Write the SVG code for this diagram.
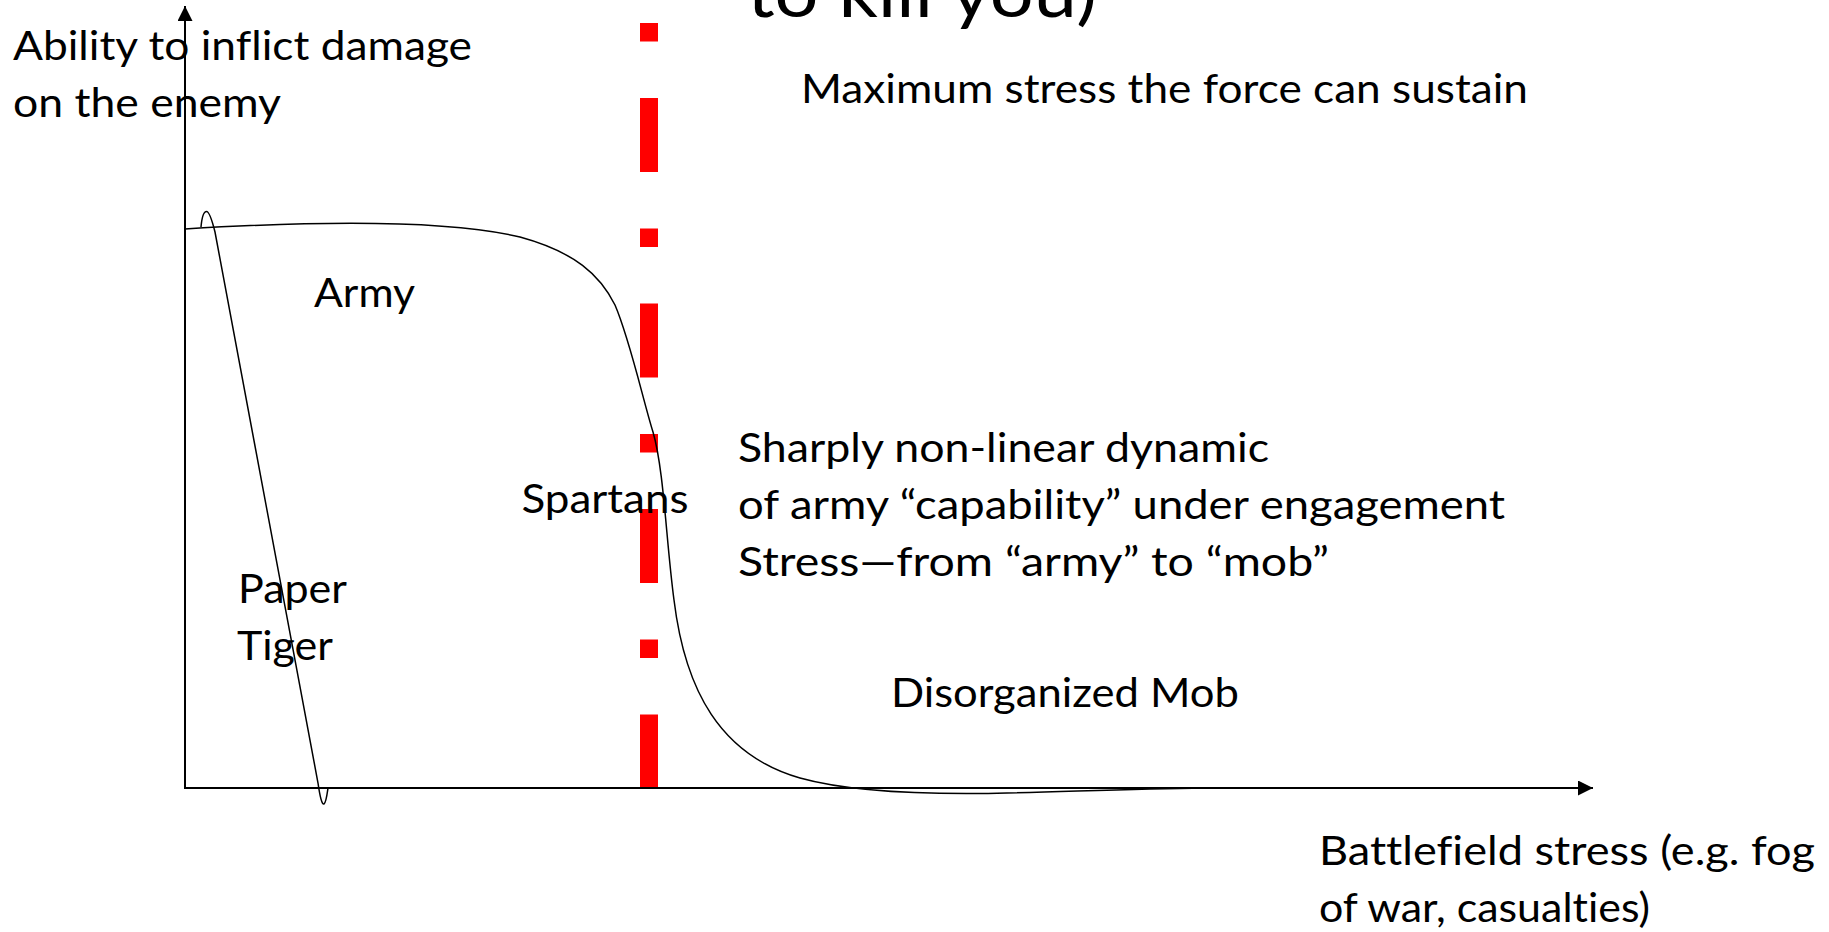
<svg xmlns="http://www.w3.org/2000/svg" width="1829" height="932" viewBox="0 0 1829 932">
<style>
  text { font-family: Lato, "Open Sans", "Liberation Sans", sans-serif; font-size: 41px; fill: #000; font-variant-ligatures: none; }
  .title { font-size: 70px; }
  .axis { stroke: #000; stroke-width: 2; fill: none; }
  .curve { stroke: #000; stroke-width: 1.5; fill: none; }
  .limit { stroke: #FF0000; stroke-width: 18; stroke-dasharray: 18.5 56.5 74 56.5; fill: none; }
</style>
<defs>
  <marker id="arrow" viewBox="0 0 15 15" markerWidth="15" markerHeight="15" markerUnits="userSpaceOnUse" refX="15" refY="7.5" orient="auto">
    <path d="M0,0 L15,7.5 L0,15 z" fill="#000"/>
  </marker>
</defs>
<rect x="0" y="0" width="1829" height="932" fill="#fff"/>

<g id="title">
  <text class="title" x="747" y="17" textLength="350" lengthAdjust="spacingAndGlyphs">to kill you)</text>
</g>

<g id="limit-line">
  <line class="limit" x1="649" y1="23" x2="649" y2="788.5"/>
</g>

<g id="connectors">
  <line class="axis" x1="185" y1="789" x2="185" y2="6" marker-end="url(#arrow)"/>
  <line class="axis" x1="184" y1="788" x2="1593" y2="788" marker-end="url(#arrow)"/>
</g>

<g id="army-curve">
  <path class="curve" d="M185,229 C300,222 440,218 520,237 C575,252 600,275 615,305 C630,340 643,400 653,432 C664,470 666,540 674,600 C685,690 720,755 800,778 C850,792 920,794 980,793.5 C1050,792.5 1120,789 1205,788"/>
</g>

<g id="paper-tiger-curve">
  <path class="curve" d="M201,227 C202,216 204,211.5 206.5,211.5 C209,211.5 212,220 215,232 L318,783 C320,797 322,805 324,804 C326,803 327,795 328,788"/>
</g>

<g id="y-axis-label">
  <text x="13" y="60" textLength="459" lengthAdjust="spacingAndGlyphs">Ability to inflict damage</text>
  <text x="13" y="117" textLength="268" lengthAdjust="spacingAndGlyphs">on the enemy</text>
</g>

<g id="max-stress-label">
  <text x="801" y="102.5" textLength="727" lengthAdjust="spacingAndGlyphs">Maximum stress the force can sustain</text>
</g>

<g id="army-label">
  <text x="314" y="306.5" textLength="101" lengthAdjust="spacingAndGlyphs">Army</text>
</g>

<g id="spartans-label">
  <text x="521.5" y="513" textLength="167" lengthAdjust="spacingAndGlyphs">Spartans</text>
</g>

<g id="paper-tiger-label">
  <text x="238" y="603" textLength="109" lengthAdjust="spacingAndGlyphs">Paper</text>
  <text x="237" y="660" textLength="96" lengthAdjust="spacingAndGlyphs">Tiger</text>
</g>

<g id="dynamic-label">
  <text x="738" y="461.5" textLength="531" lengthAdjust="spacingAndGlyphs">Sharply non-linear dynamic</text>
  <text x="738" y="518.5" textLength="767" lengthAdjust="spacingAndGlyphs">of army “capability” under engagement</text>
  <text x="738" y="575.5" textLength="591" lengthAdjust="spacingAndGlyphs">Stress—from “army” to “mob”</text>
</g>

<g id="mob-label">
  <text x="891" y="707" textLength="348" lengthAdjust="spacingAndGlyphs">Disorganized Mob</text>
</g>

<g id="x-axis-label">
  <text x="1319" y="865" textLength="496" lengthAdjust="spacingAndGlyphs">Battlefield stress (e.g. fog</text>
  <text x="1319" y="922" textLength="331" lengthAdjust="spacingAndGlyphs">of war, casualties)</text>
</g>
</svg>
